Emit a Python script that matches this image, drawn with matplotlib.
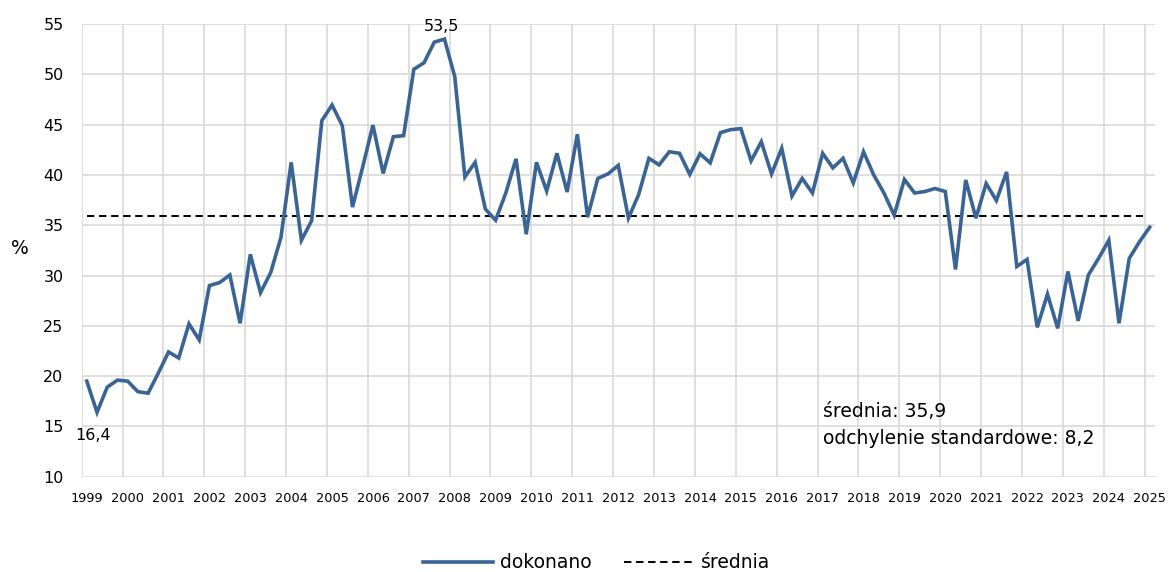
import numpy as np
import matplotlib
matplotlib.use("Agg")
import matplotlib.pyplot as plt
from matplotlib.lines import Line2D

# Quarterly series, 1999 Q1 - 2025 Q1 (%)
values = [
    19.5, 16.4, 18.9, 19.6,   # 1999
    19.5, 18.45, 18.3, 20.3,  # 2000
    22.4, 21.8, 25.2, 23.6,   # 2001
    29.0, 29.3, 30.05, 25.25, # 2002
    32.1, 28.3, 30.3, 33.8,   # 2003
    41.25, 33.5, 35.45, 45.4, # 2004
    46.95, 44.9, 36.8, 40.8,  # 2005
    44.95, 40.15, 43.8, 43.9, # 2006
    50.5, 51.15, 53.2, 53.5,  # 2007
    49.8, 39.8, 41.25, 36.6,  # 2008
    35.5, 38.2, 41.6, 34.1,   # 2009
    41.25, 38.4, 42.15, 38.3, # 2010
    44.05, 35.8, 39.65, 40.1, # 2011
    40.95, 35.7, 38.05, 41.65,# 2012
    41.0, 42.3, 42.15, 40.05, # 2013
    42.1, 41.2, 44.2, 44.5,   # 2014
    44.6, 41.4, 43.3, 40.1,   # 2015
    42.65, 37.9, 39.65, 38.2, # 2016
    42.15, 40.7, 41.65, 39.2, # 2017
    42.3, 40.0, 38.2, 36.0,   # 2018
    39.55, 38.2, 38.35, 38.65,# 2019
    38.35, 30.6, 39.5, 35.7,  # 2020
    39.15, 37.45, 40.3, 30.9, # 2021
    31.6, 24.85, 28.15, 24.75,# 2022
    30.4, 25.5, 30.05, 31.7,  # 2023
    33.5, 25.25, 31.7, 33.35, # 2024
    34.8,                     # 2025
]
years = [str(y) for y in range(1999, 2026)]
mean_value = 35.9
std_value = 8.2
min_label = "16,4"
max_label = "53,5"

series_color = "#3A6496"
grid_color = "#D9D9D9"

plt.rcParams["font.family"] = ["DejaVu Sans"]

fig = plt.figure(figsize=(11.70, 5.72), dpi=100)
ax = fig.add_axes([0.0698, 0.1666, 0.9172, 0.7914])

x = np.arange(len(values))
ax.plot(x, values, color=series_color, lw=2.6, solid_joinstyle="miter",
        zorder=3)
ax.plot([x[0], x[-1] - 0.7], [mean_value, mean_value], color="black",
        lw=1.4, ls=(0, (3.8, 2.4)), zorder=2)

ax.set_xlim(-0.5, len(values) - 0.5)
ax.set_ylim(10, 55)

# gridlines: horizontal every 5 %, vertical at year boundaries
for yv in range(10, 56, 5):
    ax.axhline(yv, color=grid_color, lw=1.2, zorder=0)
for k in range(len(years)):
    ax.axvline(4 * k - 0.5, color=grid_color, lw=1.2, zorder=0)

ax.set_yticks(range(10, 56, 5))
ax.set_yticklabels([str(v) for v in range(10, 56, 5)], fontsize=11.5)
ax.set_xticks([4 * k for k in range(len(years))])
ax.set_xticklabels(years, fontsize=9.3)
ax.tick_params(axis="both", length=0, colors="black")
ax.tick_params(axis="y", pad=13)
ax.tick_params(axis="x", pad=11)
for s in ax.spines.values():
    s.set_visible(False)

ax.set_ylabel("%", rotation=0, fontsize=13.5, va="center")
ax.yaxis.set_label_coords(-0.058, 0.505)

# data labels at the extremes
i_min = int(np.argmin(values))
i_max = int(np.argmax(values))
ax.annotate(min_label, (x[i_min], values[i_min]), xytext=(-3, -11),
            textcoords="offset points", ha="center", va="top", fontsize=11.5)
ax.annotate(max_label, (x[i_max], values[i_max]), xytext=(-2, 4),
            textcoords="offset points", ha="center", va="bottom", fontsize=11.5)

ax.text(0.691, 0.122, f"średnia: {mean_value:.1f}".replace(".", ","),
        transform=ax.transAxes, fontsize=13.5, ha="left", va="bottom")
ax.text(0.691, 0.063,
        f"odchylenie standardowe: {std_value:.1f}".replace(".", ","),
        transform=ax.transAxes, fontsize=13.5, ha="left", va="bottom")

handles = [
    Line2D([], [], color=series_color, lw=2.6),
    Line2D([], [], color="black", lw=1.4, ls=(0, (3.8, 2.4))),
]
fig.legend(handles, ["dokonano", "średnia"], loc="center",
           bbox_to_anchor=(0.51, 0.016), ncol=2, frameon=False, fontsize=13.5,
           handlelength=3.7, handletextpad=0.4, columnspacing=1.7)

fig.savefig("out.png", dpi=100)
